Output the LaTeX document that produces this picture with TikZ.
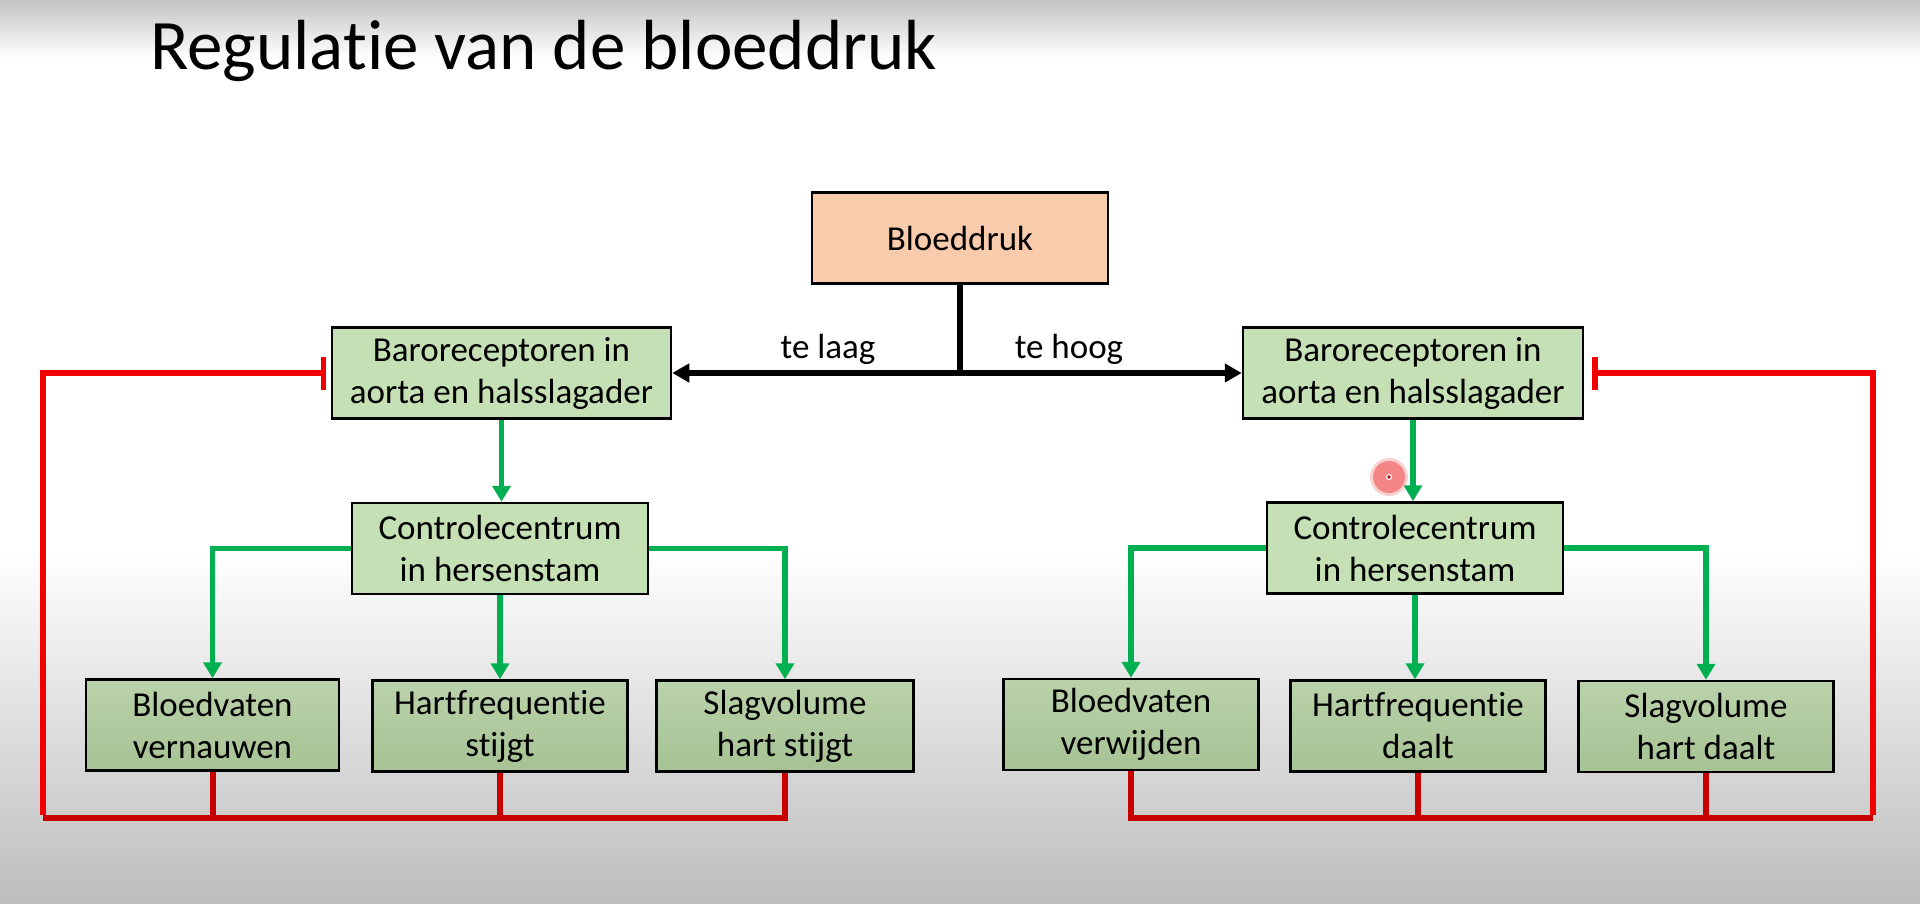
\documentclass[tikz,border=0pt]{standalone}
\usepackage{fontspec}
\setmainfont{Carlito}[Ligatures=NoCommon]
\usetikzlibrary{arrows.meta}

\definecolor{boxgreen}{HTML}{C5E0B4}
\definecolor{effgreentop}{RGB}{186,210,170}
\definecolor{effgreenbot}{RGB}{166,194,148}
\definecolor{salmon}{HTML}{F8CBAD}
\definecolor{arrowgreen}{HTML}{00B050}
\definecolor{loopred}{HTML}{F00000}
\definecolor{busred}{HTML}{C80000}
\definecolor{bgtop}{HTML}{C4C4C4}
\definecolor{bgbottom}{HTML}{BDBDBD}
\definecolor{cursorpink}{RGB}{244,122,122}

\begin{document}
\begin{tikzpicture}[x=1pt,y=-1pt,
  box/.style={draw=black, line width=2.5pt, align=center, inner sep=0pt,
    minimum height=91pt, text=black, font=\fontsize{35}{42}\selectfont},
  sensorbox/.style={box, fill=boxgreen},
  effectbox/.style={box, top color=effgreentop, bottom color=effgreenbot, minimum width=255pt},
  lbl/.style={font=\fontsize{35}{42}\selectfont, text=black, inner sep=0pt},
  pressline/.style={line width=5.5pt, black},
  pressarrow/.style={pressline, -{Triangle[length=17pt,width=18pt]}},
  garrow/.style={line width=5.5pt, arrowgreen, line join=miter, -{Triangle[length=16pt,width=18pt]}},
  busline/.style={line width=6pt, busred, line join=miter},
  inhibit/.style={line width=5.5pt, loopred, line join=miter, -{Bar[width=33pt]}}
]
\useasboundingbox (0,0) rectangle (1920,904);

% slide background
\fill[white] (0,0) rectangle (1920,904);
\fill[top color=bgtop, bottom color=white] (0,0) rectangle (1920,58);
\fill[top color=white, bottom color=bgbottom] (0,550) rectangle (1920,904);

% title
\node[anchor=base west, inner sep=0pt, text=black, font=\fontsize{71}{84}\selectfont]
  (title) at (150,70) {Regulatie van de bloeddruk};

% blood pressure and sensors
\node[box, fill=salmon, minimum width=296pt] (bp) at (960,238) {Bloeddruk};
\node[sensorbox, minimum width=339pt] (baroL) at (501.5,373) {Baroreceptoren in\\aorta en halsslagader};
\node[sensorbox, minimum width=340pt] (baroR) at (1413,373) {Baroreceptoren in\\aorta en halsslagader};

% control centres
\node[sensorbox, minimum width=296pt] (ctrlL) at (500,548.5) {Controlecentrum\\in hersenstam};
\node[sensorbox, minimum width=296pt] (ctrlR) at (1415,548) {Controlecentrum\\in hersenstam};

% effects, pressure too low
\node[effectbox, minimum width=253pt] (effL1) at (212.5,725) {Bloedvaten\\vernauwen};
\node[effectbox] (effL2) at (500,726) {Hartfrequentie\\stijgt};
\node[effectbox, minimum width=257pt] (effL3) at (785,726) {Slagvolume\\hart stijgt};

% effects, pressure too high
\node[effectbox] (effR1) at (1131,724.5) {Bloedvaten\\verwijden};
\node[effectbox] (effR2) at (1418,726) {Hartfrequentie\\daalt};
\node[effectbox] (effR3) at (1706,726.5) {Slagvolume\\hart daalt};

% pressure deviation fork
\coordinate (fork) at (bp.south |- baroL.east);
\draw[pressline] (bp.south) -- ([yshift=2.75pt]fork);
\draw[pressarrow] ([xshift=2.75pt]fork) -- (baroL.east);
\draw[pressarrow] ([xshift=-2.75pt]fork) -- (baroR.west);
\node[lbl, anchor=base] (low) at (828,358) {te laag};
\node[lbl, anchor=base] (high) at (1069,358) {te hoog};

% signalling, left branch
\draw[garrow] (baroL.south) -- (baroL.south |- ctrlL.north);
\draw[garrow] (ctrlL.west) -| (effL1.north);
\draw[garrow] (ctrlL.south) -- (ctrlL.south |- effL2.north);
\draw[garrow] (ctrlL.east) -| (effL3.north);

% signalling, right branch
\draw[garrow] (baroR.south) -- (baroR.south |- ctrlR.north);
\draw[garrow] (ctrlR.west) -| (effR1.north);
\draw[garrow] (ctrlR.south) -- (ctrlR.south |- effR2.north);
\draw[garrow] (ctrlR.east) -| (effR3.north);

% negative feedback, left
\coordinate (busLW) at (43,818);
\coordinate (busLE) at (effL3.south |- busLW);
\coordinate (stopL) at (326,373);
\draw[busline] (busLW) -- (busLE) -- (effL3.south);
\draw[busline] (effL1.south) -- (effL1.south |- busLW);
\draw[busline] (effL2.south) -- (effL2.south |- busLW);
\draw[inhibit] ([yshift=3pt]busLW) |- (stopL);

% negative feedback, right
\coordinate (busRE) at (1873,818);
\coordinate (busRW) at (effR1.south |- busRE);
\coordinate (stopR) at (1592,373);
\draw[busline] (busRE) -- (busRW) -- (effR1.south);
\draw[busline] (effR2.south) -- (effR2.south |- busRE);
\draw[busline] (effR3.south) -- (effR3.south |- busRE);
\draw[inhibit] ([yshift=3pt]busRE) |- (stopR);

% pointer highlight
\fill[cursorpink, opacity=0.35] (1389,477) circle (19);
\fill[cursorpink, opacity=0.85] (1389,477) circle (16);
\fill[white] (1389,477) circle (3);
\fill[red!70!black] (1389,477) circle (1.8);
\end{tikzpicture}
\end{document}
